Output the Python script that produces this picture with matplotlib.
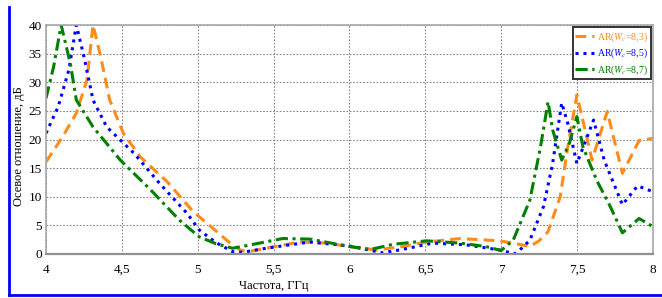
import matplotlib
matplotlib.use("Agg")
import matplotlib.pyplot as plt
from matplotlib.lines import Line2D

plt.rcParams["font.family"] = ["Liberation Serif", "DejaVu Serif"]
plt.rcParams["mathtext.fontset"] = "stix"

# frequency (GHz) / axial ratio (dB)
f_83 = [4.0, 4.11, 4.20, 4.27, 4.31, 4.36, 4.42, 4.51, 4.62, 4.80, 4.97, 5.10, 5.20, 5.28, 5.33,
        5.45, 5.67, 5.85, 6.0, 6.18, 6.35, 6.51, 6.73, 6.99, 7.10, 7.19, 7.25, 7.31, 7.39, 7.44,
        7.50, 7.60, 7.70, 7.80, 7.91, 8.0]
ar_83 = [16.1, 20.5, 24.6, 30.4, 40.0, 34.5, 26.9, 21.1, 17.0, 12.6, 7.4, 4.5, 2.2, 0.7, 0.4,
         1.0, 2.1, 1.9, 1.3, 0.7, 1.3, 2.1, 2.7, 2.3, 1.8, 1.3, 2.3, 3.9, 10.0, 18.7,
         27.8, 16.4, 24.9, 14.1, 19.8, 20.2]

f_85 = [4.0, 4.08, 4.15, 4.20, 4.25, 4.31, 4.40, 4.58, 4.75, 4.93, 5.01, 5.12, 5.23, 5.30,
        5.45, 5.74, 6.0, 6.22, 6.35, 6.55, 6.77, 6.99, 7.08, 7.10, 7.19, 7.28, 7.34, 7.40,
        7.44, 7.50, 7.61, 7.68, 7.80, 7.90, 8.0]
ar_85 = [21.1, 25.7, 32.1, 40.0, 34.5, 26.9, 22.2, 17.6, 12.3, 7.1, 4.2, 2.0, 0.4, 0.3,
         1.0, 2.1, 1.4, 0.2, 0.8, 1.9, 1.6, 0.7, 0.1, 0.1, 2.4, 8.3, 15.8, 26.4,
         22.8, 15.8, 23.4, 16.4, 8.6, 11.9, 10.9]

f_87 = [4.0, 4.05, 4.10, 4.16, 4.20, 4.31, 4.49, 4.69, 4.88, 5.01, 5.12, 5.23, 5.35,
        5.56, 5.74, 6.0, 6.14, 6.29, 6.51, 6.73, 6.90, 7.0, 7.08, 7.19, 7.26, 7.31, 7.34,
        7.40, 7.45, 7.50, 7.54, 7.63, 7.72, 7.80, 7.91, 8.0]
ar_87 = [27.2, 32.7, 40.0, 33.3, 26.9, 22.2, 16.4, 11.2, 5.9, 3.0, 1.8, 1.0, 1.6,
         2.7, 2.6, 1.3, 0.8, 1.7, 2.3, 1.9, 1.3, 0.6, 2.4, 9.4, 18.7, 26.6, 21.7,
         16.4, 19.3, 24.0, 18.7, 12.9, 8.3, 3.7, 6.2, 4.8]

x_ticks = [4, 4.5, 5, 5.5, 6, 6.5, 7, 7.5, 8]
x_tick_labels = ["4", "4,5", "5", "5,5", "6", "6,5", "7", "7,5", "8"]
y_ticks = [0, 5, 10, 15, 20, 25, 30, 35, 40]

fig = plt.figure(figsize=(6.62, 2.98), dpi=100)
ax = fig.add_axes([0.0695, 0.1477, 0.9165, 0.7683])

ax.plot(f_83, ar_83, color="#FF8C1A", linestyle=(0, (3.5, 2)), linewidth=2.2,
        label=r"AR($W_c$=8,3)")
ax.plot(f_85, ar_85, color="#0000FF", linestyle=(0, (1, 1.6)), linewidth=2.2,
        label=r"AR($W_c$=8,5)")
ax.plot(f_87, ar_87, color="#008000", linestyle=(0, (4, 1.5, 1, 1.5)), linewidth=2.2,
        label=r"AR($W_c$=8,7)")

ax.set_xlim(4, 8)
ax.set_ylim(0, 40)
ax.set_xticks(x_ticks)
ax.set_xticklabels(x_tick_labels)
ax.set_yticks(y_ticks)
ax.tick_params(length=0, labelsize=9.5)
ax.tick_params(axis="x", pad=7)
ax.tick_params(axis="y", pad=3)
ax.grid(True, color="#888888", linestyle=(0, (1.5, 1.5)), linewidth=0.8)
for s in ax.spines.values():
    s.set_color("#A8A8A8")
    s.set_linewidth(1.2)
ax.spines["bottom"].set_color("#909090")
ax.spines["bottom"].set_linewidth(1.6)

ax.set_xlabel("Частота, ГГц", fontsize=9)
ax.set_ylabel("Осевое отношение, дБ", fontsize=9)
ax.xaxis.set_label_coords(0.375, -0.115)
ax.yaxis.set_label_coords(-0.035, 0.47)

leg = ax.legend(loc="upper right", bbox_to_anchor=(0.9965, 0.99), fontsize=7,
                handlelength=1.9, handletextpad=0.3, labelspacing=0.3,
                borderpad=0.3, borderaxespad=0, fancybox=False, framealpha=1)
leg.get_frame().set_edgecolor("#333333")
leg.get_frame().set_linewidth(1.4)
for text, line in zip(leg.get_texts(), leg.get_lines()):
    text.set_color(line.get_color())

# blue frame of the screenshot (left and bottom edges)
fig.add_artist(Line2D([9 / 662, 9 / 662], [1 - 7 / 298, 1 - 295 / 298],
                      transform=fig.transFigure, color="#0000FF", linewidth=2))
fig.add_artist(Line2D([9 / 662, 1.0], [1 - 295 / 298, 1 - 295 / 298],
                      transform=fig.transFigure, color="#0000FF", linewidth=2))

fig.savefig("out.png", dpi=100)
plt.close(fig)
